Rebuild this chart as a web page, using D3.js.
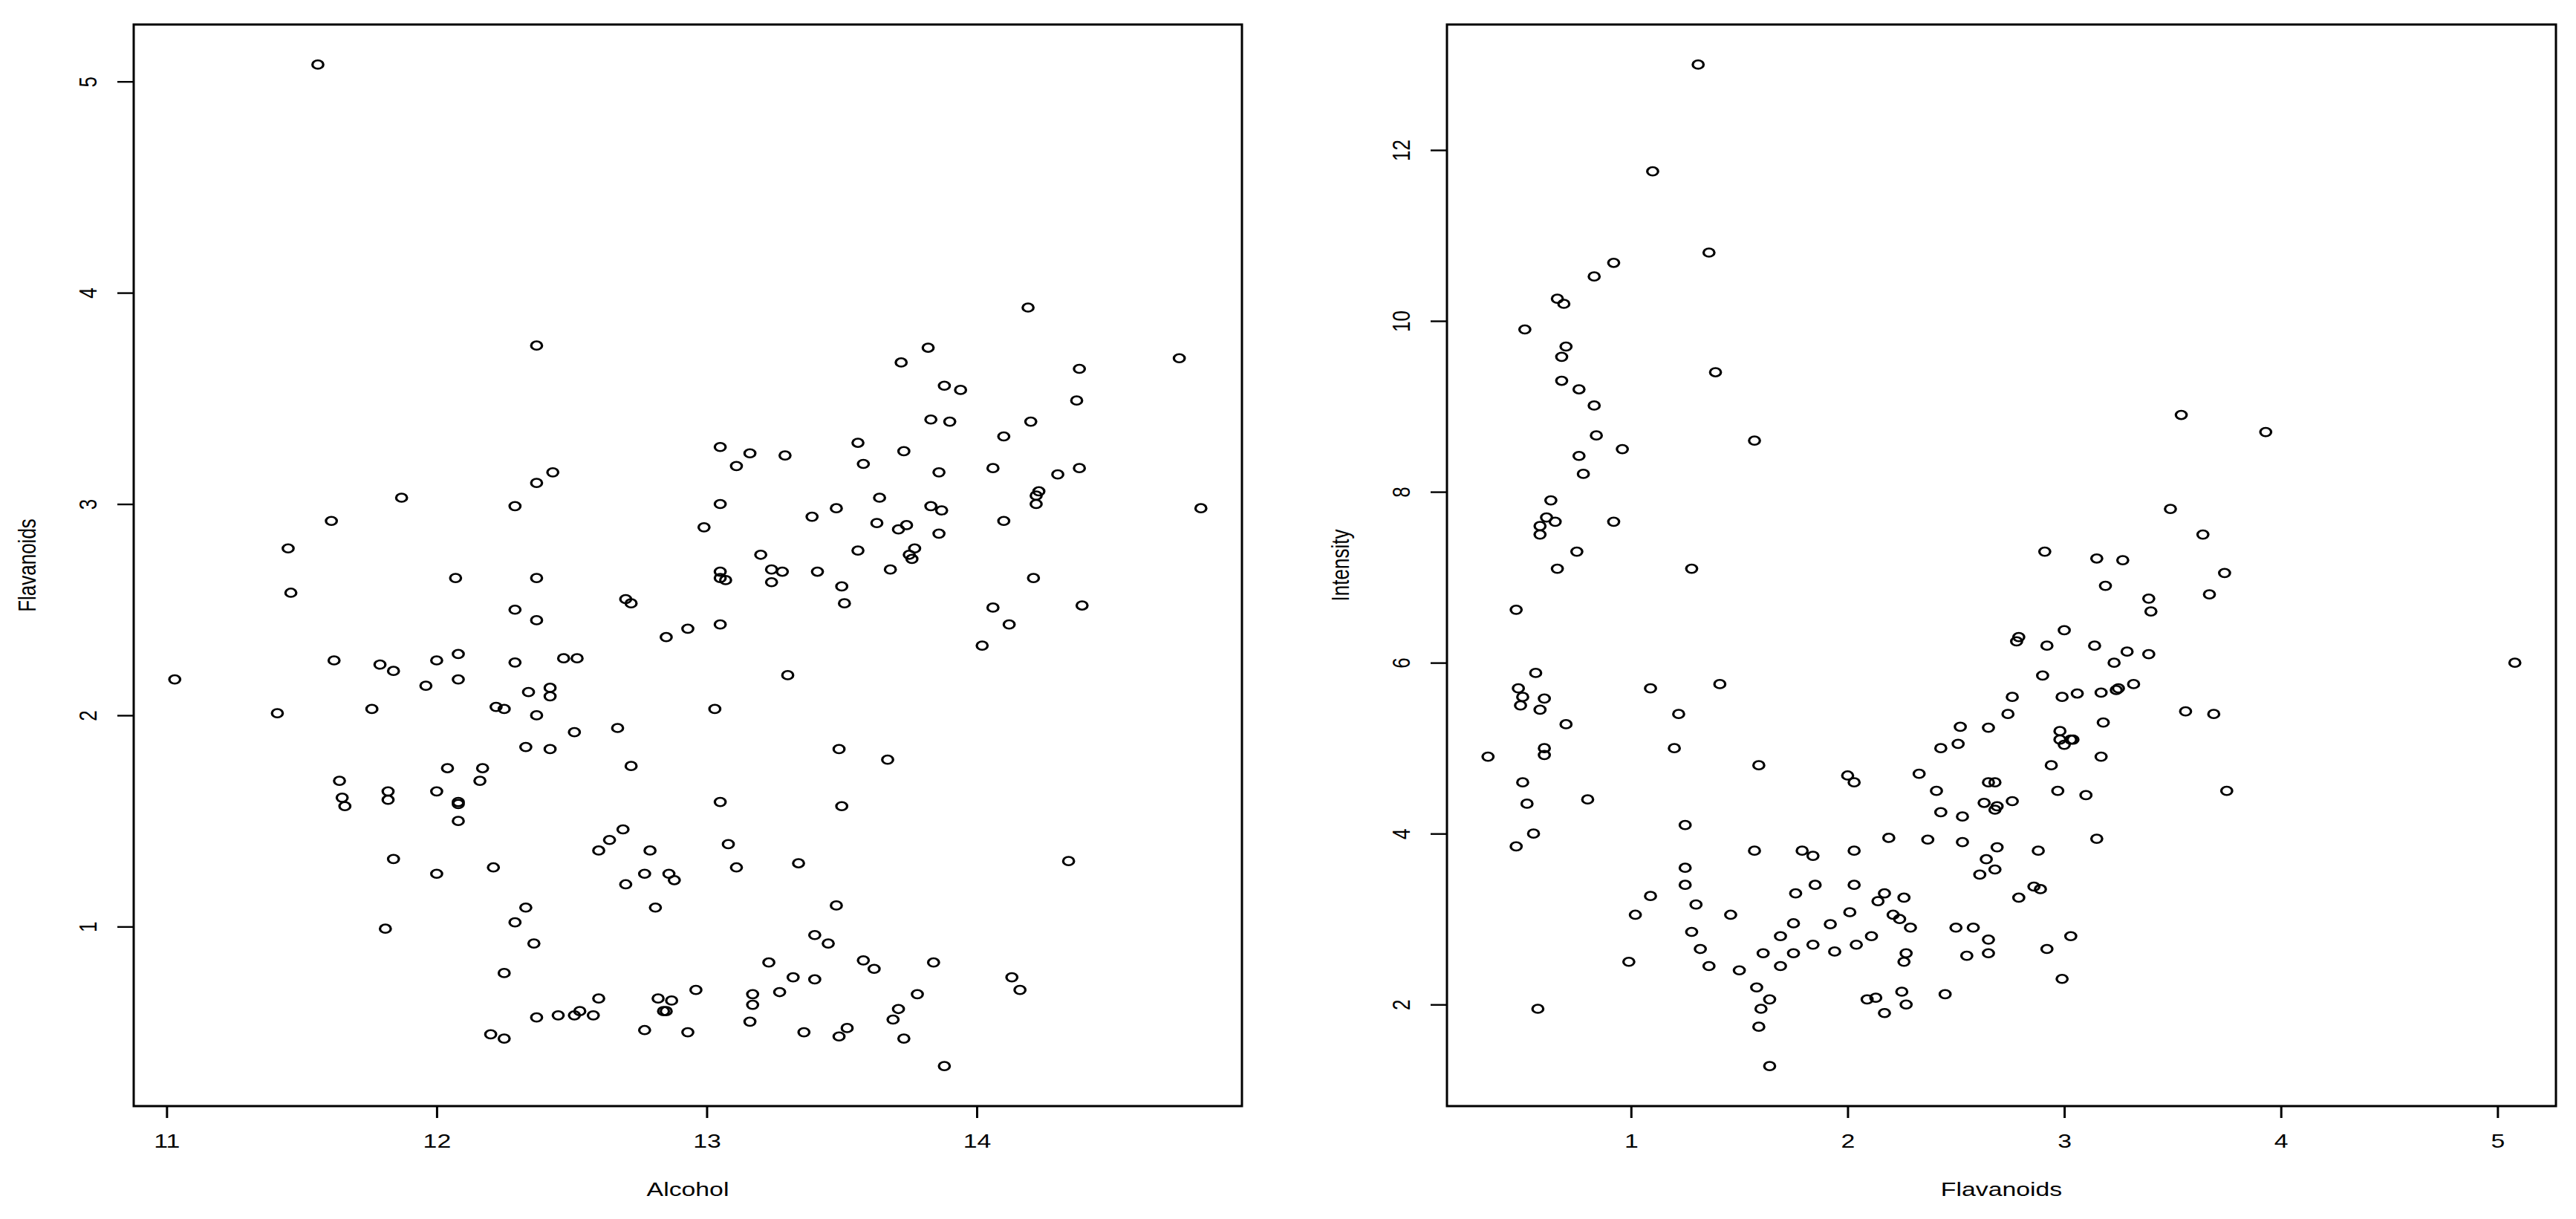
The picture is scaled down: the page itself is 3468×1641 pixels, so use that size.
<!DOCTYPE html>
<meta charset="utf-8">
<title>Wine: Alcohol / Flavanoids / Intensity</title>
<style>
body { margin: 0; background: #fff; }
text { font-family: "Liberation Sans", Arial, sans-serif; font-size: 26px; fill: #000; }
</style>
<body>
<script src="https://d3js.org/d3.v7.min.js"></script>
<script>

// wine data, 178 samples (class 1, 2, 3 in order)
var alcohol = [
  14.23,13.2,13.16,14.37,13.24,14.2,14.39,14.06,14.83,13.86,14.1,14.12,13.75,14.75,14.38,13.63,14.3,13.83,14.19,13.64,
  14.06,12.93,13.71,12.85,13.5,13.05,13.39,13.3,13.87,14.02,13.73,13.58,13.68,13.76,13.51,13.48,13.28,13.05,13.07,14.22,
  13.56,13.41,13.88,13.24,13.05,14.21,14.38,13.9,14.1,13.94,13.05,13.83,13.82,13.77,13.74,13.56,14.22,13.29,13.72,
  12.37,12.33,12.64,13.67,12.37,12.17,12.37,13.11,12.37,13.34,12.21,12.29,13.86,13.49,12.99,11.96,11.66,13.03,11.84,12.33,
  12.7,12,12.72,12.08,13.05,11.84,12.67,12.16,11.65,11.64,12.08,12.08,12,12.69,12.29,11.62,12.47,11.81,12.29,12.37,
  12.29,12.08,12.6,12.34,11.82,12.51,12.42,12.25,12.72,12.22,11.61,11.46,12.52,11.76,11.41,12.08,11.03,11.82,12.42,12.77,
  12,11.45,11.56,12.42,13.05,11.87,12.07,12.43,11.79,12.37,12.04,
  12.86,12.88,12.81,12.7,12.51,12.6,12.25,12.53,13.49,12.84,12.93,13.36,13.52,13.62,12.25,13.16,13.88,12.87,13.32,13.08,
  13.5,12.79,13.11,13.23,12.58,13.17,13.84,12.45,14.34,13.48,12.36,13.69,12.85,12.96,13.78,13.73,13.45,12.82,13.58,13.4,
  12.2,12.77,14.16,13.71,13.4,13.27,13.17,14.13
];

var flavanoids = [
  3.06,2.76,3.24,3.49,2.69,3.39,2.52,2.51,2.98,3.15,3.32,2.43,2.76,3.69,3.64,2.91,3.14,3.4,3.93,3.03,
  3.17,2.41,2.88,2.37,2.61,2.68,2.94,2.19,2.97,2.33,3.25,3.19,2.69,2.74,2.53,2.98,2.68,2.43,2.64,3.04,
  3.29,2.68,3.56,2.63,3,2.65,3.17,3.39,2.92,3.54,3.27,2.99,3.74,2.79,2.9,2.78,3,3.23,3.67,
  0.57,1.09,1.41,1.79,3.1,1.75,2.65,3.18,2,1.3,1.28,1.02,2.86,1.84,2.89,2.14,1.57,2.03,1.32,1.85,
  2.55,2.26,2.53,1.58,1.59,2.21,1.94,1.69,1.61,1.69,1.59,1.5,1.25,1.46,2.25,2.26,2.27,0.99,2.5,3.75,
  2.99,2.17,1.36,2.11,1.64,1.92,1.84,2.03,1.76,2.04,2.92,2.58,2.27,2.03,2.01,2.29,2.17,1.6,2.09,1.25,
  1.64,2.79,5.08,2.13,2.65,3.03,2.65,3.15,2.24,2.45,1.75,
  1.25,1.22,1.09,1.2,0.58,0.66,0.47,0.6,0.48,0.6,0.5,0.5,0.52,0.8,0.78,0.55,0.34,0.65,0.76,1.39,
  1.57,1.36,1.28,0.83,0.58,0.63,0.83,0.58,1.31,1.1,0.92,0.56,0.6,0.7,0.68,0.47,0.92,0.66,0.84,0.96,
  0.49,0.51,0.7,0.61,0.75,0.69,0.68,0.76
];

var intensity = [
  5.64,4.38,5.68,7.8,4.32,6.75,5.25,5.05,5.2,7.22,5.75,5,5.6,5.4,7.5,7.3,6.2,6.6,8.7,5.1,
  5.65,4.5,3.8,3.93,3.52,3.58,4.8,3.95,4.5,4.7,5.7,6.9,3.84,5.4,4.2,5.1,4.6,4.25,3.7,5.1,
  6.13,4.28,5.43,4.36,5.04,5.24,4.9,6.1,6.2,8.9,7.2,5.6,7.05,6.3,5.85,6.25,6.38,6,6.8,
  1.95,3.27,5.75,3.8,4.45,2.95,4.6,5.3,4.68,3.17,2.85,3.05,3.38,3.74,3.35,3.21,3.8,4.6,2.65,3.4,
  2.57,2.5,3.9,2.2,4.8,3.05,2.62,2.45,2.6,2.8,1.74,2.4,3.6,3.05,2.15,3.25,2.6,2.5,2.9,4.5,
  2.3,3.3,2.45,2.8,2.06,2.94,2.7,3.4,3.3,2.7,2.65,2.9,2,3.8,3.08,2.9,1.9,1.95,2.06,3.4,
  1.28,3.25,6,2.08,2.6,2.8,2.76,3.94,3,2.12,2.6,
  4.1,5.4,5.7,5,5.45,7.1,3.85,5,5.7,4.92,4.6,5.6,4.35,4.4,8.21,4,4.9,7.65,8.42,9.4,
  8.6,10.8,7.1,10.52,7.6,7.9,9.01,7.5,13,11.75,7.65,5.88,5.58,5.28,9.58,6.62,10.68,10.26,8.66,8.5,
  5.5,9.9,9.7,7.7,7.3,10.2,9.3,9.2
];

var alcoholTicks = [11, 12, 13, 14];
var flavanoidTicks = [1, 2, 3, 4, 5];
var intensityTicks = [2, 4, 6, 8, 10, 12];

var width = 3468,
    height = 1641,
    plotTop = 33,
    plotBottom = 1489,
    sx = 1.3; // the picture is stretched sideways

var svg = d3.select("body").append("svg")
    .attr("width", width)
    .attr("height", height);

// R style axis range: data range plus 4% each side
function pad(v) {
  var e = d3.extent(v), p = (e[1] - e[0]) * 0.04;
  return [e[0] - p, e[1] + p];
}

function panel(xs, ys, x0, x1, xTicks, yTicks, xTitle, yTitle) {
  var x = d3.scaleLinear().domain(pad(xs)).range([x0, x1]);
  var y = d3.scaleLinear().domain(pad(ys)).range([plotBottom, plotTop]);
  var g = svg.append("g");

  var gx = g.append("g")
      .attr("transform", "translate(0," + plotBottom + ")")
      .call(d3.axisBottom(x).tickValues(xTicks).tickSize(16).tickFormat(d3.format("d")));
  gx.select(".domain").remove();
  gx.selectAll(".tick line").attr("stroke", "#000").attr("stroke-width", 3);
  gx.selectAll(".tick text")
      .attr("y", 56).attr("dy", null)
      .attr("text-anchor", "middle")
      .attr("transform", "scale(" + sx + ",1)");

  var gy = g.append("g")
      .attr("transform", "translate(" + x0 + ",0)")
      .call(d3.axisLeft(y).tickValues(yTicks).tickSize(22).tickFormat(d3.format("d")));
  gy.select(".domain").remove();
  gy.selectAll(".tick line").attr("stroke", "#000").attr("stroke-width", 2.4);
  gy.selectAll(".tick text")
      .attr("x", 0).attr("dy", null)
      .attr("text-anchor", "middle")
      .attr("transform", "translate(-50,0) scale(" + sx + ",1) rotate(-90)");

  g.append("rect")
      .attr("x", x0).attr("y", plotTop)
      .attr("width", x1 - x0).attr("height", plotBottom - plotTop)
      .attr("fill", "none").attr("stroke", "#000").attr("stroke-width", 3);

  g.append("g").selectAll("circle")
      .data(d3.range(xs.length))
      .enter().append("circle")
      .attr("transform", function(i) { return "translate(" + x(xs[i]) + "," + y(ys[i]) + ") scale(" + sx + ",1)"; })
      .attr("r", 5.6)
      .attr("fill", "none")
      .attr("stroke", "#000")
      .attr("stroke-width", 2.5);

  g.append("text")
      .attr("text-anchor", "middle")
      .attr("transform", "translate(" + (x0 + x1) / 2 + "," + (plotBottom + 121) + ") scale(" + sx + ",1)")
      .text(xTitle);

  g.append("text")
      .attr("text-anchor", "middle")
      .attr("transform", "translate(" + (x0 - 132) + "," + (plotTop + plotBottom) / 2 + ") scale(" + sx + ",1) rotate(-90)")
      .text(yTitle);
}

panel(alcohol, flavanoids, 180, 1672, alcoholTicks, flavanoidTicks, "Alcohol", "Flavanoids");
panel(flavanoids, intensity, 1948, 3441, flavanoidTicks, intensityTicks, "Flavanoids", "Intensity");

</script>
